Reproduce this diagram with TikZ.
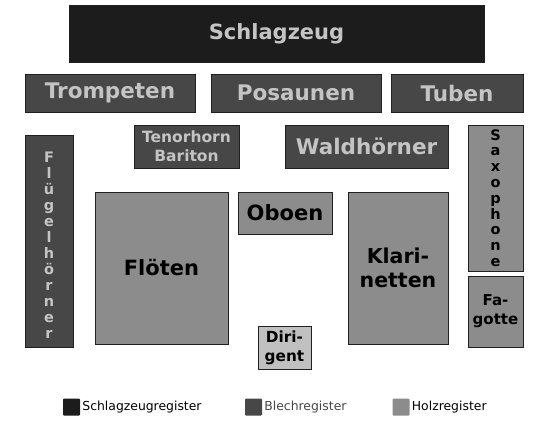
\documentclass[tikz,border=0pt]{standalone}
\usepackage{fontspec}
\setmainfont{DejaVu Sans}
\definecolor{schlagfill}{HTML}{1C1C1C}
\definecolor{blechfill}{HTML}{474747}
\definecolor{holzfill}{HTML}{8C8C8C}
\definecolor{dirfill}{HTML}{C0C0C0}
\definecolor{lighttext}{HTML}{C4C4C4}
\definecolor{edgecol}{HTML}{202020}
\begin{document}
\begin{tikzpicture}[x=1pt,y=-1pt,
  reg/.style={shape=rectangle,draw=edgecol,line width=0.8pt,inner sep=0pt,align=center,font=\bfseries},
  schlag/.style={reg,fill=schlagfill,text=lighttext},
  blech/.style={reg,fill=blechfill,text=lighttext},
  holz/.style={reg,fill=holzfill,text=black},
  dirig/.style={reg,fill=dirfill,text=black},
  legendbox/.style={shape=rectangle,rounded corners=1pt,inner sep=0pt,minimum size=17pt}]
\useasboundingbox (0,0) rectangle (550,429);

\node[schlag,minimum width=415pt,minimum height=57pt,font=\bfseries\fontsize{21}{24}\selectfont] (schlagzeug) at (276.5,33.5){Schlagzeug};

\node[blech,minimum width=170pt,minimum height=38pt,font=\bfseries\fontsize{21.5}{24}\selectfont] (trompeten) at (110,93){Trompeten};
\node[blech,minimum width=170pt,minimum height=38pt,font=\bfseries\fontsize{21.5}{24}\selectfont] (posaunen) at (296,93){Posaunen};
\node[blech,minimum width=132pt,minimum height=38pt,font=\bfseries\fontsize{21.5}{24}\selectfont] (tuben) at (457,93){Tuben};
\node[blech,minimum width=105pt,minimum height=43pt,font=\bfseries\fontsize{15.5}{19}\selectfont] (tenorhorn) at (186.5,146.5){Tenorhorn\\Bariton};
\node[blech,minimum width=163pt,minimum height=43pt,font=\bfseries\fontsize{21.5}{24}\selectfont] (waldhoerner) at (366.5,146.5){Waldhörner};
\node[blech,minimum width=48pt,minimum height=212pt,font=\bfseries\fontsize{14.5}{16}\selectfont] (fluegelhoerner) at (49,241){\rule{0pt}{19pt}F\\l\\ü\\g\\e\\l\\h\\ö\\r\\n\\e\\r};

\node[holz,minimum width=55pt,minimum height=146pt,font=\bfseries\fontsize{14.5}{15.8}\selectfont] (saxophone) at (495.5,198){S\\a\\x\\o\\p\\h\\o\\n\\e};
\node[holz,minimum width=55pt,minimum height=71pt,font=\bfseries\fontsize{15}{19}\selectfont] (fagotte) at (495.5,311.5){Fa-\\gotte};
\node[holz,minimum width=133pt,minimum height=152pt,font=\bfseries\fontsize{21}{24}\selectfont] (floeten) at (161.5,268){Flöten};
\node[holz,minimum width=94pt,minimum height=42pt,font=\bfseries\fontsize{21}{24}\selectfont] (oboen) at (285,213){Oboen};
\node[holz,minimum width=100pt,minimum height=152pt,font=\bfseries\fontsize{20.5}{24}\selectfont] (klarinetten) at (398,268){Klari-\\netten};

\node[dirig,minimum width=53pt,minimum height=43pt,font=\bfseries\fontsize{15.3}{19}\selectfont] (dirigent) at (284.5,347.5){Diri-\\gent};

%legend
\node[legendbox,fill=schlagfill,label={[font=\fontsize{12.4}{15}\selectfont,inner sep=2pt]right:Schlagzeugregister}] (lschlag) at (71.5,407){};
\node[legendbox,fill=blechfill,label={[font=\fontsize{12.4}{15}\selectfont,text=blechfill,inner sep=2pt]right:Blechregister}] (lblech) at (253.5,407){};
\node[legendbox,fill=holzfill,label={[font=\fontsize{12.4}{15}\selectfont,inner sep=2pt]right:Holzregister}] (lholz) at (401,407){};
\end{tikzpicture}
\end{document}
